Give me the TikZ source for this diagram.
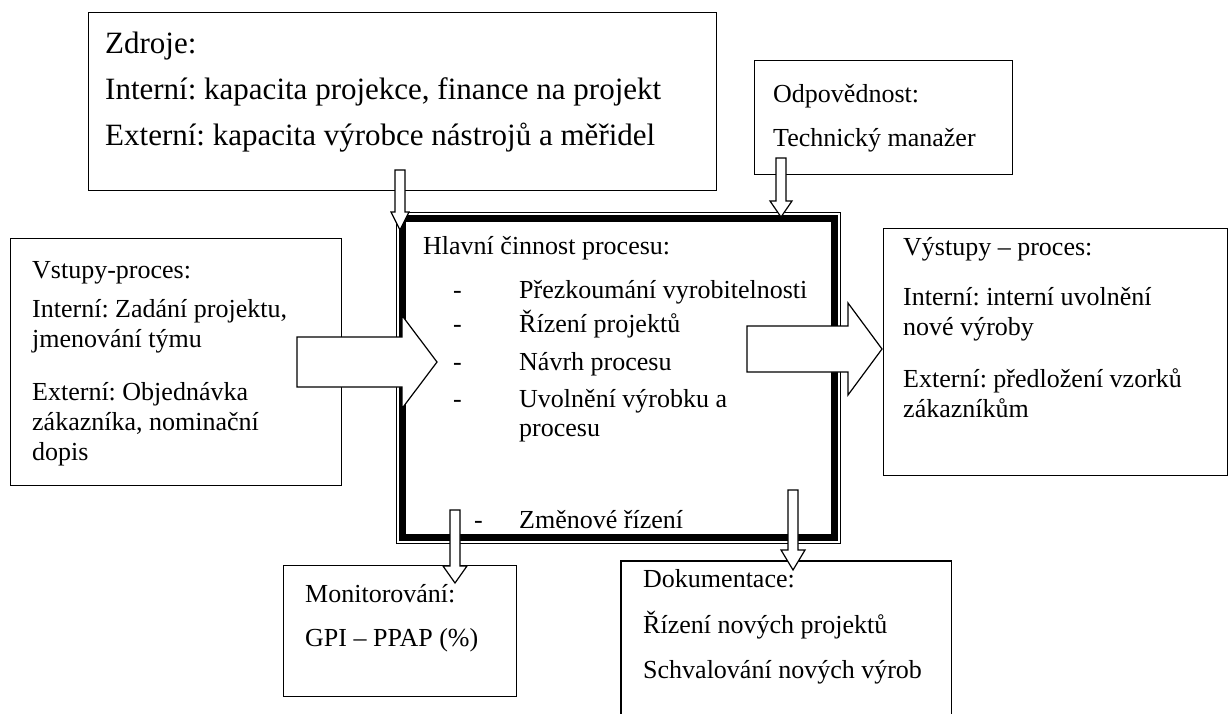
\documentclass[tikz,border=0pt]{standalone}
\usepackage{fontspec}
\setmainfont{Liberation Serif}
\usetikzlibrary{calc}
\frenchspacing
\tikzset{
  box/.style={draw, line width=1.2pt, fill=white, inner sep=0pt, anchor=north west},
  txt/.style={anchor=base west, inner sep=0pt, font=\fontsize{26}{30}\selectfont},
  bigtxt/.style={txt, font=\fontsize{31}{36}\selectfont},
  blk/.style={draw, fill=white, line width=1.2pt, line join=miter},
}
% horizontal block arrow: start, tip, head length, shaft half, head half
\newcommand\blockH[5]{%
  \draw[blk] ($(#1)+(0,-#4)$) -- ($(#2)+(-#3,-#4)$) -- ($(#2)+(-#3,-#5)$) -- (#2)
    -- ($(#2)+(-#3,#5)$) -- ($(#2)+(-#3,#4)$) -- ($(#1)+(0,#4)$) -- cycle;}
% vertical (downward) block arrow: start, tip, head length, shaft half, head half
\newcommand\blockV[5]{%
  \draw[blk] ($(#1)+(-#4,0)$) -- ($(#2)+(-#4,-#3)$) -- ($(#2)+(-#5,-#3)$) -- (#2)
    -- ($(#2)+(#5,-#3)$) -- ($(#2)+(#4,-#3)$) -- ($(#1)+(#4,0)$) -- cycle;}
\begin{document}
\begin{tikzpicture}[x=1pt,y=-1pt]
\useasboundingbox (0,0) rectangle (1231,713);
% boxes
\node[box, minimum width=628pt, minimum height=178pt] (zdroje) at (88,12) {};
\node[box, minimum width=258pt, minimum height=114pt] (odp) at (754,60) {};
\node[box, minimum width=331pt, minimum height=247pt] (vstupy) at (10,238) {};
\node[box, minimum width=344pt, minimum height=247pt] (vystupy) at (883,228) {};
\node[box, minimum width=233pt, minimum height=131pt] (monit) at (283,565) {};
\node[anchor=north west, inner sep=0pt, minimum width=330pt, minimum height=200pt] (dok) at (621,561) {};
\draw[line width=1.2pt] (dok.south west) |- (dok.north east) -- (dok.south east);
% main process box: thin outer line + thick inner line
\node[box, minimum width=444pt, minimum height=331pt] (main) at (396,212) {};
\draw[line width=7pt] ($(main.north west)+(6.5,6.5)$) rectangle ($(main.south east)+(-6.5,-6.5)$);
% arrow end points
\coordinate (zdA) at (400,170);  \coordinate (zdB) at (400,230);
\coordinate (odA) at (781,158);  \coordinate (odB) at (781,217);
\coordinate (vsA) at (297,362);  \coordinate (vsB) at (437,362);
\coordinate (vyA) at (747,349);  \coordinate (vyB) at (882,349);
\coordinate (moA) at (455,510);  \coordinate (moB) at (455,583);
\coordinate (doA) at (793,490);  \coordinate (doB) at (793,570);
% arrows
\blockV{zdA}{zdB}{18}{5}{9}
\blockV{odA}{odB}{16}{5}{11}
\blockH{vsA}{vsB}{35}{25}{46.5}
\blockH{vyA}{vyB}{34}{23}{46}
\blockV{moA}{moB}{17}{5}{12}
\blockV{doA}{doB}{20}{5}{12}
% texts
\node[bigtxt] (t1) at (105,53) {Zdroje:};
\node[bigtxt] (t2) at (105,99) {Interní: kapacita projekce, finance na projekt};
\node[bigtxt] (t3) at (105,145) {Externí: kapacita výrobce nástrojů a měřidel};
\node[txt] (t4) at (773,102) {Odpovědnost:};
\node[txt] (t5) at (773,146) {Technický manažer};
\node[txt] (t6) at (32,278) {Vstupy-proces:};
\node[txt] (t7) at (32,317) {Interní: Zadání projektu,};
\node[txt] (t8) at (32,347) {jmenování týmu};
\node[txt] (t9) at (32,400) {Externí: Objednávka};
\node[txt] (t10) at (32,430) {zákazníka, nominační};
\node[txt] (t11) at (32,460) {dopis};
\node[txt] (t12) at (423,254) {Hlavní činnost procesu:};
\node[txt] (d1) at (453,298) {-};
\node[txt] (d2) at (453,332) {-};
\node[txt] (d3) at (453,370) {-};
\node[txt] (d4) at (453,407) {-};
\node[txt] (d5) at (474,528) {-};
\node[txt] (i1) at (519,298) {Přezkoumání vyrobitelnosti};
\node[txt] (i2) at (519,332) {Řízení projektů};
\node[txt] (i3) at (519,370) {Návrh procesu};
\node[txt] (i4) at (519,407) {Uvolnění výrobku a};
\node[txt] (i5) at (519,436) {procesu};
\node[txt] (i6) at (519,528) {Změnové řízení};
\node[txt] (t13) at (903,255) {Výstupy – proces:};
\node[txt] (t14) at (903,305) {Interní: interní uvolnění};
\node[txt] (t15) at (903,335) {nové výroby};
\node[txt] (t16) at (903,387) {Externí: předložení vzorků};
\node[txt] (t17) at (903,417) {zákazníkům};
\node[txt] (t18) at (305,602) {Monitorování:};
\node[txt] (t19) at (305,646) {GPI – PPAP (\%)};
\node[txt] (t20) at (643,587) {Dokumentace:};
\node[txt] (t21) at (643,633) {Řízení nových projektů};
\node[txt] (t22) at (643,678) {Schvalování nových výrob};
\end{tikzpicture}
\end{document}
